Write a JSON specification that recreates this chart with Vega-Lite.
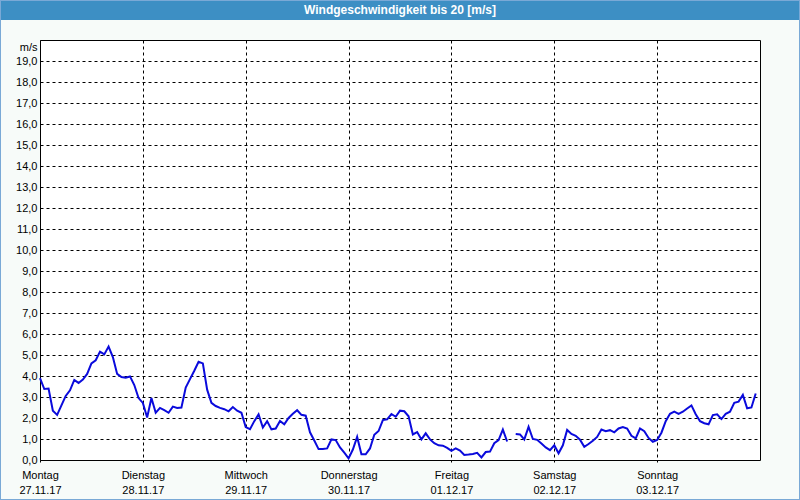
{
  "$schema": "https://vega.github.io/schema/vega-lite/v6.json",
  "width": 720,
  "height": 420,
  "autosize": {"type": "none"},
  "padding": {"left": 40, "top": 40, "right": 40, "bottom": 40},
  "background": "#f7fbf9",
  "view": {"fill": "white", "stroke": "black", "strokeWidth": 1},
  "config": {"font": "Liberation Sans"},
  "layer": [
    {
      "data": {"values": [
        {"h":0,"v":3.9},{"h":1,"v":3.38},{"h":2,"v":3.4},{"h":3,"v":2.35},{"h":4,"v":2.15},{"h":5,"v":2.6},{"h":6,"v":3.05},{"h":7,"v":3.32},{"h":8,"v":3.81},{"h":9,"v":3.67},
        {"h":10,"v":3.83},{"h":11,"v":4.1},{"h":12,"v":4.6},{"h":13,"v":4.75},{"h":14,"v":5.16},{"h":15,"v":5.03},{"h":16,"v":5.4},{"h":17,"v":4.9},{"h":18,"v":4.1},{"h":19,"v":3.95},
        {"h":20,"v":3.92},{"h":21,"v":3.98},{"h":22,"v":3.57},{"h":23,"v":2.95},{"h":24,"v":2.72},{"h":25,"v":2.02},{"h":26,"v":2.95},{"h":27,"v":2.25},{"h":28,"v":2.48},{"h":29,"v":2.37},
        {"h":30,"v":2.25},{"h":31,"v":2.54},{"h":32,"v":2.48},{"h":33,"v":2.5},{"h":34,"v":3.45},{"h":35,"v":3.85},{"h":36,"v":4.25},{"h":37,"v":4.68},{"h":38,"v":4.6},{"h":39,"v":3.35},
        {"h":40,"v":2.72},{"h":41,"v":2.57},{"h":42,"v":2.48},{"h":43,"v":2.42},{"h":44,"v":2.32},{"h":45,"v":2.52},{"h":46,"v":2.35},{"h":47,"v":2.25},{"h":48,"v":1.57},{"h":49,"v":1.47},
        {"h":50,"v":1.85},{"h":51,"v":2.17},{"h":52,"v":1.55},{"h":53,"v":1.85},{"h":54,"v":1.46},{"h":55,"v":1.5},{"h":56,"v":1.86},{"h":57,"v":1.7},{"h":58,"v":2.0},{"h":59,"v":2.2},
        {"h":60,"v":2.37},{"h":61,"v":2.15},{"h":62,"v":2.11},{"h":63,"v":1.32},{"h":64,"v":0.93},{"h":65,"v":0.52},{"h":66,"v":0.52},{"h":67,"v":0.55},{"h":68,"v":0.98},{"h":69,"v":0.95},
        {"h":70,"v":0.6},{"h":71,"v":0.35},{"h":72,"v":0.08},{"h":73,"v":0.5},{"h":74,"v":1.1},{"h":75,"v":0.27},{"h":76,"v":0.27},{"h":77,"v":0.55},{"h":78,"v":1.2},{"h":79,"v":1.38},
        {"h":80,"v":1.9},{"h":81,"v":1.94},{"h":82,"v":2.19},{"h":83,"v":2.06},{"h":84,"v":2.35},{"h":85,"v":2.32},{"h":86,"v":2.08},{"h":87,"v":1.22},{"h":88,"v":1.33},{"h":89,"v":0.98},
        {"h":90,"v":1.27},{"h":91,"v":0.98},{"h":92,"v":0.8},{"h":93,"v":0.7},{"h":94,"v":0.68},{"h":95,"v":0.58},{"h":96,"v":0.44},{"h":97,"v":0.55},{"h":98,"v":0.45},{"h":99,"v":0.24},
        {"h":100,"v":0.26},{"h":101,"v":0.29},{"h":102,"v":0.34},{"h":103,"v":0.12},{"h":104,"v":0.38},{"h":105,"v":0.4},{"h":106,"v":0.8},{"h":107,"v":0.95},{"h":108,"v":1.45},{"h":109,"v":0.88},
        {"h":110,"v":null},{"h":111,"v":1.24},{"h":112,"v":1.22},{"h":113,"v":0.98},{"h":114,"v":1.58},{"h":115,"v":1.0},{"h":116,"v":0.96},{"h":117,"v":0.78},{"h":118,"v":0.6},{"h":119,"v":0.47},
        {"h":120,"v":0.7},{"h":121,"v":0.32},{"h":122,"v":0.7},{"h":123,"v":1.43},{"h":124,"v":1.24},{"h":125,"v":1.15},{"h":126,"v":0.97},{"h":127,"v":0.63},{"h":128,"v":0.76},{"h":129,"v":0.92},
        {"h":130,"v":1.1},{"h":131,"v":1.45},{"h":132,"v":1.37},{"h":133,"v":1.42},{"h":134,"v":1.32},{"h":135,"v":1.5},{"h":136,"v":1.57},{"h":137,"v":1.5},{"h":138,"v":1.15},{"h":139,"v":1.03},
        {"h":140,"v":1.5},{"h":141,"v":1.37},{"h":142,"v":1.05},{"h":143,"v":0.87},{"h":144,"v":0.95},{"h":145,"v":1.3},{"h":146,"v":1.85},{"h":147,"v":2.2},{"h":148,"v":2.3},{"h":149,"v":2.2},
        {"h":150,"v":2.3},{"h":151,"v":2.45},{"h":152,"v":2.6},{"h":153,"v":2.18},{"h":154,"v":1.85},{"h":155,"v":1.75},{"h":156,"v":1.7},{"h":157,"v":2.14},{"h":158,"v":2.18},{"h":159,"v":1.95},
        {"h":160,"v":2.2},{"h":161,"v":2.3},{"h":162,"v":2.72},{"h":163,"v":2.78},{"h":164,"v":3.1},{"h":165,"v":2.46},{"h":166,"v":2.5},{"h":167,"v":3.17}
      ]},
      "mark": {"type": "line", "color": "#0a0adc", "strokeWidth": 2, "invalid": "break-paths-show-domains"},
      "encoding": {
        "x": {
          "field": "h", "type": "quantitative",
          "scale": {"domain": [0, 168], "nice": false, "zero": false},
          "axis": {
            "title": null,
            "values": [0, 24, 48, 72, 96, 120, 144],
            "tickCount": 20,
            "labelExpr": "[['Montag','Dienstag','Mittwoch','Donnerstag','Freitag','Samstag','Sonntag'][datum.value/24], ['27.11.17','28.11.17','29.11.17','30.11.17','01.12.17','02.12.17','03.12.17'][datum.value/24]]",
            "labelFont": "Liberation Sans", "labelFontSize": 11, "labelColor": "black",
            "labelLineHeight": 15, "labelPadding": 5, "labelFlush": false, "labelOverlap": false,
            "grid": true, "gridColor": "black", "gridDash": [3, 3], "gridOpacity": 1, "gridWidth": 1,
            "domain": false, "ticks": true, "tickColor": "black", "tickSize": 4, "tickDash": [2, 2]
          }
        },
        "y": {
          "field": "v", "type": "quantitative",
          "scale": {"domain": [0, 20], "nice": false},
          "axis": {
            "title": "m/s", "titleAngle": 0, "titleAlign": "right", "titleBaseline": "middle",
            "titleX": -3, "titleY": 7, "titleFont": "Liberation Sans", "titleFontSize": 11, "titleFontWeight": "normal", "titleColor": "black",
            "values": [0,1,2,3,4,5,6,7,8,9,10,11,12,13,14,15,16,17,18,19],
            "tickCount": 30,
            "labelExpr": "replace(format(datum.value, '.1f'), '.', ',')",
            "labelFont": "Liberation Sans", "labelFontSize": 11, "labelColor": "black", "labelPadding": 3, "labelOverlap": false,
            "grid": true, "gridColor": "black", "gridDash": [3, 3], "gridOpacity": 1, "gridWidth": 1,
            "domain": false, "ticks": false
          }
        }
      }
    },
    {
      "data": {"values": [{}]},
      "mark": {"type": "rect", "fill": "#3d8fc4", "clip": false},
      "encoding": {
        "x": {"datum": -9.333, "type": "quantitative"},
        "x2": {"datum": 177.333},
        "y": {"datum": 20.952, "type": "quantitative"},
        "y2": {"datum": 21.905}
      }
    },
    {
      "data": {"values": [{}]},
      "mark": {"type": "rect", "fill": null, "stroke": "#7aa9d6", "strokeWidth": 2, "clip": false},
      "encoding": {
        "x": {"datum": -9.333, "type": "quantitative"},
        "x2": {"datum": 177.333},
        "y": {"datum": -1.905, "type": "quantitative"},
        "y2": {"datum": 21.905}
      }
    },
    {
      "data": {"values": [{}]},
      "mark": {"type": "text", "color": "white", "fontWeight": "bold", "fontSize": 12, "font": "Liberation Sans", "align": "center", "baseline": "middle", "clip": false},
      "encoding": {
        "x": {"datum": 84, "type": "quantitative"},
        "y": {"datum": 21.43, "type": "quantitative"},
        "text": {"value": "Windgeschwindigkeit bis 20 [m/s]"}
      }
    }
  ]
}
